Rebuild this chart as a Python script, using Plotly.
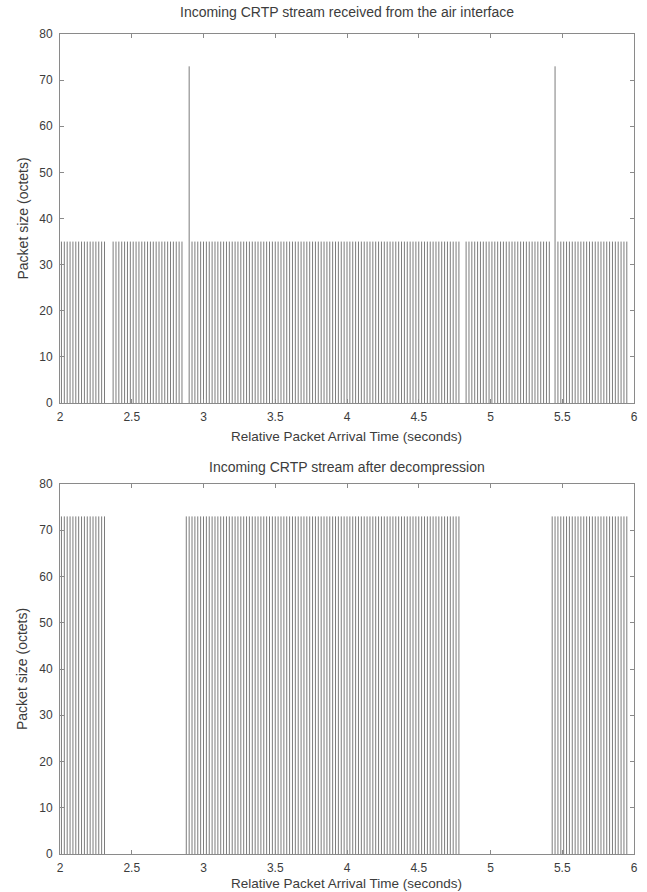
import plotly.graph_objects as go

# ---- data ----
top_times = [
    2.01, 2.03, 2.05, 2.07, 2.09, 2.11, 2.13, 2.15, 2.17, 2.19,
    2.21, 2.23, 2.25, 2.27, 2.29, 2.31, 2.37, 2.39, 2.41, 2.43,
    2.45, 2.47, 2.49, 2.51, 2.53, 2.55, 2.57, 2.59, 2.61, 2.63,
    2.65, 2.67, 2.69, 2.71, 2.73, 2.75, 2.77, 2.79, 2.81, 2.83,
    2.85, 2.90, 2.92, 2.94, 2.96, 2.98, 3.00, 3.02, 3.04, 3.06,
    3.08, 3.10, 3.12, 3.14, 3.16, 3.18, 3.20, 3.22, 3.24, 3.26,
    3.28, 3.30, 3.32, 3.34, 3.36, 3.38, 3.40, 3.42, 3.44, 3.46,
    3.48, 3.50, 3.52, 3.54, 3.56, 3.58, 3.60, 3.62, 3.64, 3.66,
    3.68, 3.70, 3.72, 3.74, 3.76, 3.78, 3.80, 3.82, 3.84, 3.86,
    3.88, 3.90, 3.92, 3.94, 3.96, 3.98, 4.00, 4.02, 4.04, 4.06,
    4.08, 4.10, 4.12, 4.14, 4.16, 4.18, 4.20, 4.22, 4.24, 4.26,
    4.28, 4.30, 4.32, 4.34, 4.36, 4.38, 4.40, 4.42, 4.44, 4.46,
    4.48, 4.50, 4.52, 4.54, 4.56, 4.58, 4.60, 4.62, 4.64, 4.66,
    4.68, 4.70, 4.72, 4.74, 4.76, 4.78, 4.83, 4.85, 4.87, 4.89,
    4.91, 4.93, 4.95, 4.97, 4.99, 5.01, 5.03, 5.05, 5.07, 5.09,
    5.11, 5.13, 5.15, 5.17, 5.19, 5.21, 5.23, 5.25, 5.27, 5.29,
    5.31, 5.33, 5.35, 5.37, 5.39, 5.41, 5.45, 5.47, 5.49, 5.51,
    5.53, 5.55, 5.57, 5.59, 5.61, 5.63, 5.65, 5.67, 5.69, 5.71,
    5.73, 5.75, 5.77, 5.79, 5.81, 5.83, 5.85, 5.87, 5.89, 5.91,
    5.93, 5.95,
]
top_sizes = [
    35, 35, 35, 35, 35, 35, 35, 35, 35, 35,
    35, 35, 35, 35, 35, 35, 35, 35, 35, 35,
    35, 35, 35, 35, 35, 35, 35, 35, 35, 35,
    35, 35, 35, 35, 35, 35, 35, 35, 35, 35,
    35, 73, 35, 35, 35, 35, 35, 35, 35, 35,
    35, 35, 35, 35, 35, 35, 35, 35, 35, 35,
    35, 35, 35, 35, 35, 35, 35, 35, 35, 35,
    35, 35, 35, 35, 35, 35, 35, 35, 35, 35,
    35, 35, 35, 35, 35, 35, 35, 35, 35, 35,
    35, 35, 35, 35, 35, 35, 35, 35, 35, 35,
    35, 35, 35, 35, 35, 35, 35, 35, 35, 35,
    35, 35, 35, 35, 35, 35, 35, 35, 35, 35,
    35, 35, 35, 35, 35, 35, 35, 35, 35, 35,
    35, 35, 35, 35, 35, 35, 35, 35, 35, 35,
    35, 35, 35, 35, 35, 35, 35, 35, 35, 35,
    35, 35, 35, 35, 35, 35, 35, 35, 35, 35,
    35, 35, 35, 35, 35, 35, 73, 35, 35, 35,
    35, 35, 35, 35, 35, 35, 35, 35, 35, 35,
    35, 35, 35, 35, 35, 35, 35, 35, 35, 35,
    35, 35,
]

bottom_times = [
    2.01, 2.03, 2.05, 2.07, 2.09, 2.11, 2.13, 2.15, 2.17, 2.19,
    2.21, 2.23, 2.25, 2.27, 2.29, 2.31, 2.88, 2.90, 2.92, 2.94,
    2.96, 2.98, 3.00, 3.02, 3.04, 3.06, 3.08, 3.10, 3.12, 3.14,
    3.16, 3.18, 3.20, 3.22, 3.24, 3.26, 3.28, 3.30, 3.32, 3.34,
    3.36, 3.38, 3.40, 3.42, 3.44, 3.46, 3.48, 3.50, 3.52, 3.54,
    3.56, 3.58, 3.60, 3.62, 3.64, 3.66, 3.68, 3.70, 3.72, 3.74,
    3.76, 3.78, 3.80, 3.82, 3.84, 3.86, 3.88, 3.90, 3.92, 3.94,
    3.96, 3.98, 4.00, 4.02, 4.04, 4.06, 4.08, 4.10, 4.12, 4.14,
    4.16, 4.18, 4.20, 4.22, 4.24, 4.26, 4.28, 4.30, 4.32, 4.34,
    4.36, 4.38, 4.40, 4.42, 4.44, 4.46, 4.48, 4.50, 4.52, 4.54,
    4.56, 4.58, 4.60, 4.62, 4.64, 4.66, 4.68, 4.70, 4.72, 4.74,
    4.76, 4.78, 5.43, 5.45, 5.47, 5.49, 5.51, 5.53, 5.55, 5.57,
    5.59, 5.61, 5.63, 5.65, 5.67, 5.69, 5.71, 5.73, 5.75, 5.77,
    5.79, 5.81, 5.83, 5.85, 5.87, 5.89, 5.91, 5.93, 5.95,
]
bottom_sizes = [
    73, 73, 73, 73, 73, 73, 73, 73, 73, 73,
    73, 73, 73, 73, 73, 73, 73, 73, 73, 73,
    73, 73, 73, 73, 73, 73, 73, 73, 73, 73,
    73, 73, 73, 73, 73, 73, 73, 73, 73, 73,
    73, 73, 73, 73, 73, 73, 73, 73, 73, 73,
    73, 73, 73, 73, 73, 73, 73, 73, 73, 73,
    73, 73, 73, 73, 73, 73, 73, 73, 73, 73,
    73, 73, 73, 73, 73, 73, 73, 73, 73, 73,
    73, 73, 73, 73, 73, 73, 73, 73, 73, 73,
    73, 73, 73, 73, 73, 73, 73, 73, 73, 73,
    73, 73, 73, 73, 73, 73, 73, 73, 73, 73,
    73, 73, 73, 73, 73, 73, 73, 73, 73, 73,
    73, 73, 73, 73, 73, 73, 73, 73, 73, 73,
    73, 73, 73, 73, 73, 73, 73, 73, 73,
]

x_tick_vals = [2, 2.5, 3, 3.5, 4, 4.5, 5, 5.5, 6]
x_tick_text = ["2", "2.5", "3", "3.5", "4", "4.5", "5", "5.5", "6"]
y_tick_vals = [0, 10, 20, 30, 40, 50, 60, 70, 80]

titles = ["Incoming CRTP stream received from the air interface",
          "Incoming CRTP stream after decompression"]
x_title = "Relative Packet Arrival Time (seconds)"
y_title = "Packet size (octets)"


def stems(times, sizes):
    xs, ys = [], []
    for t, s in zip(times, sizes):
        xs += [t, t, None]
        ys += [0, s, None]
    return xs, ys


W, H = 647, 892
FONT = "Liberation Sans, Arial, Helvetica, sans-serif"
TXT = "#3c3c3c"
AXC = "#8a8a8a"

fig = go.Figure()
for i, (t, s) in enumerate([(top_times, top_sizes), (bottom_times, bottom_sizes)]):
    xs, ys = stems(t, s)
    sfx = "" if i == 0 else "2"
    fig.add_trace(go.Scatter(x=xs, y=ys, mode="lines",
                             line=dict(color="#5a5a5a", width=0.8),
                             xaxis="x" + sfx, yaxis="y" + sfx,
                             showlegend=False, hoverinfo="skip"))

# pixel geometry
L, R = 60, 634
panels = [(34, 403), (484, 854)]

def ydom(top, bot):
    return [1 - bot / H, 1 - top / H]

axis_common = dict(
    showgrid=False, zeroline=False, showline=True, linecolor=AXC, linewidth=1,
    mirror="allticks", ticks="inside", ticklen=4, tickcolor=AXC,
    tickfont=dict(family=FONT, size=12, color=TXT),
    ticklabeloverflow="allow",
    automargin=False,
)

layout = dict(
    width=W, height=H,
    margin=dict(l=0, r=0, t=0, b=0),
    paper_bgcolor="white", plot_bgcolor="white",
    font=dict(family=FONT, color=TXT),
    showlegend=False,
)
for i, (top, bot) in enumerate(panels):
    sfx = "" if i == 0 else "2"
    layout["xaxis" + sfx] = dict(
        axis_common, domain=[L / W, R / W], range=[1.9999, 6.0001],
        tickvals=x_tick_vals, ticktext=x_tick_text,
        anchor="y" + sfx, ticklabelstandoff=3,
    )
    layout["yaxis" + sfx] = dict(
        axis_common, domain=ydom(top, bot), range=[0, 80.01],
        tickvals=y_tick_vals, anchor="x" + sfx, ticklabelstandoff=4,
    )

fig.update_layout(**layout)

title_off = [22, 17]
xt_off = [33, 29]
anns = []
for i, (top, bot) in enumerate(panels):
    # panel title
    anns.append(dict(text=titles[i], xref="paper", yref="paper",
                     x=(L + R) / 2 / W, y=1 - (top - title_off[i]) / H,
                     xanchor="center", yanchor="middle", showarrow=False,
                     font=dict(family=FONT, size=14, color=TXT)))
    # x axis title
    anns.append(dict(text=x_title, xref="paper", yref="paper",
                     x=(L + R) / 2 / W, y=1 - (bot + xt_off[i]) / H,
                     xanchor="center", yanchor="middle", showarrow=False,
                     font=dict(family=FONT, size=13.5, color=TXT)))
    # y axis title
    anns.append(dict(text=y_title, xref="paper", yref="paper",
                     x=22 / W, y=1 - (top + bot) / 2 / H, textangle=-90,
                     xanchor="center", yanchor="middle", showarrow=False,
                     font=dict(family=FONT, size=14, color=TXT)))
fig.update_layout(annotations=anns)

fig.write_html("out.html",
               config={"displayModeBar": False},
               post_script="document.body.style.margin='0';document.body.style.overflow='hidden';")
